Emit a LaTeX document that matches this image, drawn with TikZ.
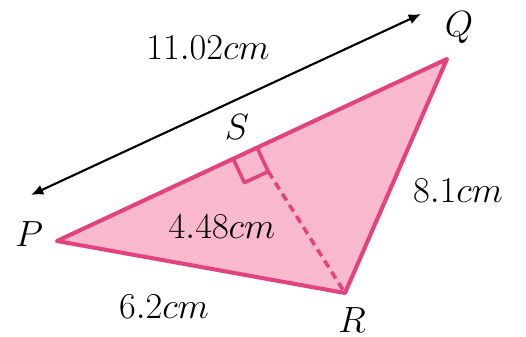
\documentclass[tikz,border=0pt]{standalone}
\usetikzlibrary{calc,arrows.meta}
\definecolor{trifill}{RGB}{249,185,205}
\definecolor{triline}{RGB}{228,66,126}
\begin{document}
\begin{tikzpicture}[x=0.02cm, y=-0.02cm, >={Latex[length=7pt,width=6pt]},
    side/.style={triline, line width=2.3pt, line join=round},
    lbl/.style={font=\fontsize{20.5}{24}\selectfont, inner sep=0pt}]
    \useasboundingbox (0,0) rectangle (526,337);

    % 1. Các đỉnh tam giác
    \coordinate (P) at (57,241);
    \coordinate (Q) at (447,59);
    \coordinate (R) at (345,293);
    \coordinate (S) at ($(P)!0.513!(Q)$);

    % 2. Tô màu và viền tam giác PQR
    \fill[trifill] (P) -- (Q) -- (R) -- cycle;
    \draw[side] (P) -- (Q) -- (R) -- cycle;

    % 3. Ký hiệu góc vuông và đường cao đứt nét
    \coordinate (S1) at ($(S)!15pt!(P)$);
    \coordinate (S2) at ($(S)!15pt!90:(P)$);
    \coordinate (S3) at ($(S1)+(S2)-(S)$);
    \draw[side, line width=2pt] (S1) -- (S3) -- (S2) -- (S);
    \draw[side, line width=2pt, dash pattern=on 4.5pt off 3pt] (S2) -- (R);

    % 4. Mũi tên độ dài PQ
    \coordinate (A1) at (31,195);
    \coordinate (A2) at (421,14);
    \draw[<->, line width=1.2pt] (A1) -- (A2);

    % 5. Tên các đỉnh và nhãn
    \node[lbl] (lP) at (29,234) {$P$};
    \node[lbl] (lQ) at (459,28) {$Q$};
    \node[lbl] (lR) at (352,320) {$R$};
    \node[lbl] (lS) at (237,127) {$S$};

    \node[lbl] (lPQ) at (208,48) {$11.02cm$};
    \node[lbl] (lQR) at (458,191) {$8.1cm$};
    \node[lbl] (lPR) at (164,307) {$6.2cm$};
    \node[lbl] (lSR) at (222,227) {$4.48cm$};
\end{tikzpicture}
\end{document}
